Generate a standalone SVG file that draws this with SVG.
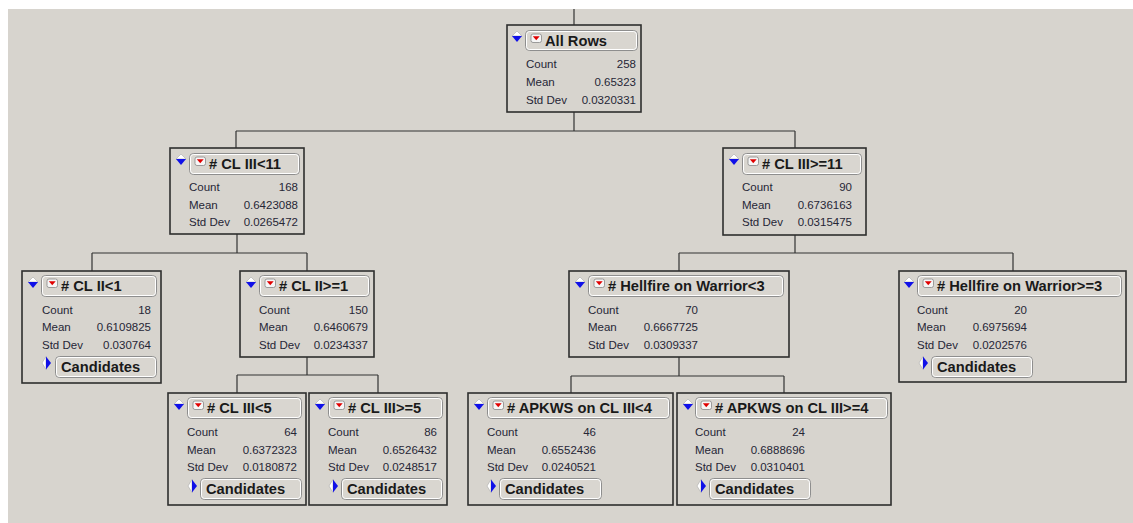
<svg xmlns="http://www.w3.org/2000/svg" xmlns:xlink="http://www.w3.org/1999/xlink" width="1133" height="523" viewBox="0 0 1133 523">
<style>
.box{fill:#d7d4ce;stroke:#2e2e2e;stroke-width:1.6}
.btn{fill:#d9d6d0;stroke:#8e8e8e;stroke-width:1}
.hl{fill:none;stroke:#fff;stroke-width:1}
.t{font-family:"Liberation Sans",Arial,sans-serif;font-weight:bold;font-size:14.7px;fill:#1a1a1a}
.l{font-family:"Liberation Sans",Arial,sans-serif;font-size:11.5px;fill:#262636}
.v{font-family:"Liberation Sans",Arial,sans-serif;font-size:11.5px;fill:#262636;text-anchor:end}
.c{fill:none;stroke:#333;stroke-width:1.2}
</style>
<defs>
<g id="exp"><path d="M-5 0 L0 -5 L5 0 Z" fill="#fff" stroke="#aaa" stroke-width="0.6"/><path d="M-5 0 L5 0 L0 6 Z" fill="#1010e8"/></g>
<g id="menu"><rect x="0" y="0" width="10.5" height="8.5" rx="2" fill="#f6f6f6" stroke="#888" stroke-width="0.8"/><path d="M1.8 2.2 L8.7 2.2 L5.25 6.2 Z" fill="#e00000"/></g>
<g id="col"><path d="M0 -6.5 L-4 0 L0 6.5 Z" fill="#fff" stroke="#aaa" stroke-width="0.6"/><path d="M0 -6.5 L5 0 L0 6.5 Z" fill="#1010e8"/></g>
</defs>
<rect x="0" y="0" width="1133" height="523" fill="#fff"/>
<rect x="8" y="9" width="1125" height="514" fill="#d7d4ce"/>
<g id="connectors">
<path class="c" d="M574 9V25"/>
<path class="c" d="M574 112V131M236 131H795M236 131V148M795 131V148"/>
<path class="c" d="M237 234V253M92 253H307M92 253V271M307 253V271"/>
<path class="c" d="M795 235V253M679 253H1013M679 253V271M1013 253V271"/>
<path class="c" d="M307 357V375M237 375H378M237 375V393M378 375V393"/>
<path class="c" d="M679 357V376M571 376H784M571 376V393M784 376V393"/>
</g>
<g id="n-all">
<rect class="box" x="507" y="25" width="134" height="87"/>
<use xlink:href="#exp" x="517" y="36"/>
<rect class="btn" x="525.5" y="30.5" width="112" height="20" rx="4"/><rect class="hl" x="526.5" y="31.5" width="110" height="18" rx="3"/>
<use xlink:href="#menu" x="531" y="34"/>
<text class="t" x="545" y="46">All Rows</text>
<text class="l" x="526" y="68">Count</text><text class="v" x="636" y="68">258</text>
<text class="l" x="526" y="86">Mean</text><text class="v" x="636" y="86">0.65323</text>
<text class="l" x="526" y="104">Std Dev</text><text class="v" x="636" y="104">0.0320331</text>
</g>
<g id="n-cl3lt11">
<rect class="box" x="170" y="148" width="134" height="86"/>
<use xlink:href="#exp" x="181" y="159"/>
<rect class="btn" x="189.5" y="153.5" width="110" height="21" rx="4"/><rect class="hl" x="190.5" y="154.5" width="108" height="19" rx="3"/>
<use xlink:href="#menu" x="195" y="157"/>
<text class="t" x="209" y="169"># CL III&lt;11</text>
<text class="l" x="189" y="191">Count</text><text class="v" x="298" y="191">168</text>
<text class="l" x="189" y="208.5">Mean</text><text class="v" x="298" y="208.5">0.6423088</text>
<text class="l" x="189" y="226">Std Dev</text><text class="v" x="298" y="226">0.0265472</text>
</g>
<g id="n-cl3ge11">
<rect class="box" x="723" y="148" width="143" height="87"/>
<use xlink:href="#exp" x="734" y="159"/>
<rect class="btn" x="742.5" y="153.5" width="119" height="21" rx="4"/><rect class="hl" x="743.5" y="154.5" width="117" height="19" rx="3"/>
<use xlink:href="#menu" x="748" y="157"/>
<text class="t" x="762" y="169"># CL III&gt;=11</text>
<text class="l" x="742" y="191">Count</text><text class="v" x="852" y="191">90</text>
<text class="l" x="742" y="208.5">Mean</text><text class="v" x="852" y="208.5">0.6736163</text>
<text class="l" x="742" y="226">Std Dev</text><text class="v" x="852" y="226">0.0315475</text>
</g>
<g id="n-cl2lt1">
<rect class="box" x="22" y="271" width="139" height="112"/>
<use xlink:href="#exp" x="33" y="282"/>
<rect class="btn" x="41.5" y="275.5" width="115" height="21" rx="4"/><rect class="hl" x="42.5" y="276.5" width="113" height="19" rx="3"/>
<use xlink:href="#menu" x="47" y="279"/>
<text class="t" x="61" y="291"># CL II&lt;1</text>
<text class="l" x="42" y="314">Count</text><text class="v" x="151" y="314">18</text>
<text class="l" x="42" y="331">Mean</text><text class="v" x="151" y="331">0.6109825</text>
<text class="l" x="42" y="348.5">Std Dev</text><text class="v" x="151" y="348.5">0.030764</text>
<use xlink:href="#col" x="46" y="363"/>
<rect class="btn" x="55.5" y="356.5" width="101" height="21" rx="4"/><rect class="hl" x="56.5" y="357.5" width="99" height="19" rx="3"/>
<text class="t" x="61" y="372">Candidates</text>
</g>
<g id="n-cl2ge1">
<rect class="box" x="240" y="271" width="134" height="86"/>
<use xlink:href="#exp" x="251" y="282"/>
<rect class="btn" x="259.5" y="275.5" width="110" height="21" rx="4"/><rect class="hl" x="260.5" y="276.5" width="108" height="19" rx="3"/>
<use xlink:href="#menu" x="265" y="279"/>
<text class="t" x="279" y="291"># CL II&gt;=1</text>
<text class="l" x="259" y="314">Count</text><text class="v" x="368" y="314">150</text>
<text class="l" x="259" y="331">Mean</text><text class="v" x="368" y="331">0.6460679</text>
<text class="l" x="259" y="348.5">Std Dev</text><text class="v" x="368" y="348.5">0.0234337</text>
</g>
<g id="n-hflt3">
<rect class="box" x="569" y="271" width="220" height="86"/>
<use xlink:href="#exp" x="580" y="282"/>
<rect class="btn" x="588.5" y="275.5" width="195" height="21" rx="4"/><rect class="hl" x="589.5" y="276.5" width="193" height="19" rx="3"/>
<use xlink:href="#menu" x="594" y="279"/>
<text class="t" x="608" y="291"># Hellfire on Warrior&lt;3</text>
<text class="l" x="588" y="314">Count</text><text class="v" x="698" y="314">70</text>
<text class="l" x="588" y="331">Mean</text><text class="v" x="698" y="331">0.6667725</text>
<text class="l" x="588" y="348.5">Std Dev</text><text class="v" x="698" y="348.5">0.0309337</text>
</g>
<g id="n-hfge3">
<rect class="box" x="899" y="271" width="227" height="111"/>
<use xlink:href="#exp" x="909" y="282"/>
<rect class="btn" x="917.5" y="275.5" width="204" height="21" rx="4"/><rect class="hl" x="918.5" y="276.5" width="202" height="19" rx="3"/>
<use xlink:href="#menu" x="923" y="279"/>
<text class="t" x="937" y="291"># Hellfire on Warrior&gt;=3</text>
<text class="l" x="917" y="314">Count</text><text class="v" x="1027" y="314">20</text>
<text class="l" x="917" y="331">Mean</text><text class="v" x="1027" y="331">0.6975694</text>
<text class="l" x="917" y="348.5">Std Dev</text><text class="v" x="1027" y="348.5">0.0202576</text>
<use xlink:href="#col" x="923" y="363"/>
<rect class="btn" x="931.5" y="356.5" width="101" height="21" rx="4"/><rect class="hl" x="932.5" y="357.5" width="99" height="19" rx="3"/>
<text class="t" x="937" y="372">Candidates</text>
</g>
<g id="n-cl3lt5">
<rect class="box" x="168" y="393" width="138" height="112"/>
<use xlink:href="#exp" x="179" y="404"/>
<rect class="btn" x="187.5" y="397.5" width="114" height="21" rx="4"/><rect class="hl" x="188.5" y="398.5" width="112" height="19" rx="3"/>
<use xlink:href="#menu" x="193" y="401"/>
<text class="t" x="207" y="413"># CL III&lt;5</text>
<text class="l" x="187" y="436">Count</text><text class="v" x="297" y="436">64</text>
<text class="l" x="187" y="453.5">Mean</text><text class="v" x="297" y="453.5">0.6372323</text>
<text class="l" x="187" y="471">Std Dev</text><text class="v" x="297" y="471">0.0180872</text>
<use xlink:href="#col" x="192" y="486"/>
<rect class="btn" x="200.5" y="478.5" width="101" height="21" rx="4"/><rect class="hl" x="201.5" y="479.5" width="99" height="19" rx="3"/>
<text class="t" x="206" y="494">Candidates</text>
</g>
<g id="n-cl3ge5">
<rect class="box" x="309" y="393" width="138" height="112"/>
<use xlink:href="#exp" x="320" y="404"/>
<rect class="btn" x="328.5" y="397.5" width="114" height="21" rx="4"/><rect class="hl" x="329.5" y="398.5" width="112" height="19" rx="3"/>
<use xlink:href="#menu" x="334" y="401"/>
<text class="t" x="348" y="413"># CL III&gt;=5</text>
<text class="l" x="328" y="436">Count</text><text class="v" x="437" y="436">86</text>
<text class="l" x="328" y="453.5">Mean</text><text class="v" x="437" y="453.5">0.6526432</text>
<text class="l" x="328" y="471">Std Dev</text><text class="v" x="437" y="471">0.0248517</text>
<use xlink:href="#col" x="333" y="486"/>
<rect class="btn" x="341.5" y="478.5" width="101" height="21" rx="4"/><rect class="hl" x="342.5" y="479.5" width="99" height="19" rx="3"/>
<text class="t" x="347" y="494">Candidates</text>
</g>
<g id="n-apklt4">
<rect class="box" x="468" y="393" width="205" height="112"/>
<use xlink:href="#exp" x="479" y="404"/>
<rect class="btn" x="487.5" y="397.5" width="182" height="21" rx="4"/><rect class="hl" x="488.5" y="398.5" width="180" height="19" rx="3"/>
<use xlink:href="#menu" x="493" y="401"/>
<text class="t" x="507" y="413"># APKWS on CL III&lt;4</text>
<text class="l" x="487" y="436">Count</text><text class="v" x="596" y="436">46</text>
<text class="l" x="487" y="453.5">Mean</text><text class="v" x="596" y="453.5">0.6552436</text>
<text class="l" x="487" y="471">Std Dev</text><text class="v" x="596" y="471">0.0240521</text>
<use xlink:href="#col" x="491" y="486"/>
<rect class="btn" x="499.5" y="478.5" width="102" height="21" rx="4"/><rect class="hl" x="500.5" y="479.5" width="100" height="19" rx="3"/>
<text class="t" x="505" y="494">Candidates</text>
</g>
<g id="n-apkge4">
<rect class="box" x="677" y="393" width="214" height="112"/>
<use xlink:href="#exp" x="688" y="404"/>
<rect class="btn" x="695.5" y="397.5" width="192" height="21" rx="4"/><rect class="hl" x="696.5" y="398.5" width="190" height="19" rx="3"/>
<use xlink:href="#menu" x="701" y="401"/>
<text class="t" x="715" y="413"># APKWS on CL III&gt;=4</text>
<text class="l" x="695" y="436">Count</text><text class="v" x="805" y="436">24</text>
<text class="l" x="695" y="453.5">Mean</text><text class="v" x="805" y="453.5">0.6888696</text>
<text class="l" x="695" y="471">Std Dev</text><text class="v" x="805" y="471">0.0310401</text>
<use xlink:href="#col" x="701" y="486"/>
<rect class="btn" x="709.5" y="478.5" width="101" height="21" rx="4"/><rect class="hl" x="710.5" y="479.5" width="99" height="19" rx="3"/>
<text class="t" x="715" y="494">Candidates</text>
</g>
</svg>
